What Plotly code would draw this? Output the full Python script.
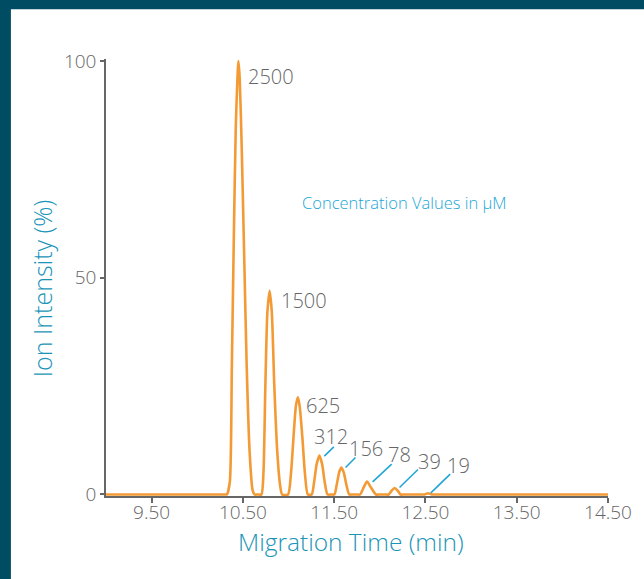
import plotly.graph_objects as go

# Electropherogram trace (migration time in min, ion intensity in %)
time_min = [
    9.00, 10.00, 10.28, 10.31, 10.325, 10.357, 10.379, 10.401, 10.422, 10.444, 10.451, 10.465, 10.487,
    10.514, 10.541, 10.573, 10.606, 10.628, 10.66,
    10.703, 10.725, 10.746, 10.768, 10.793, 10.817, 10.844, 10.876, 10.908, 10.930,
    10.995, 11.027, 11.060, 11.081, 11.103, 11.124, 11.152, 11.179, 11.211,
    11.254, 11.281, 11.308, 11.338, 11.368, 11.395, 11.427,
    11.47, 11.503, 11.530, 11.557, 11.579, 11.606, 11.633, 11.665, 11.70,
    11.75, 11.784, 11.822, 11.860, 11.903, 11.957, 12.00,
    12.06, 12.097, 12.130, 12.162, 12.195, 12.227, 12.27,
    12.45, 12.49, 12.53, 12.57, 12.62,
    13.00, 14.00, 14.50,
]
intensity = [
    0, 0, 0, 0, 0, 3, 30, 60, 85, 98, 100, 96, 80,
    55, 30, 10, 1, 0, 0,
    0, 5, 25, 42, 47, 42, 25, 10, 2, 0,
    0, 5, 15, 20.5, 22.4, 20, 13, 5, 0,
    0, 3, 7, 9, 7, 3, 0,
    0, 0, 2.5, 5.3, 6.2, 5, 2.3, 0, 0,
    0, 0, 1.6, 3.0, 1.6, 0, 0,
    0, 0, 0.9, 1.5, 0.9, 0, 0,
    0, 0, 0.3, 0, 0,
    0, 0, 0,
]

# Concentration labels (µM) for each peak
conc_labels = ["2500", "1500", "625", "312", "156", "78", "39", "19"]
label_x = [10.811, 11.168, 11.381, 11.470, 11.849, 12.219, 12.544, 12.865]
label_y = [96.5, 44.8, 20.6, 13.3, 10.6, 9.3, 7.7, 6.8]

# Leader lines for the small peaks (start x, start y, end x, end y)
leader_x0 = [11.392, 11.625, 11.921, 12.216, 12.559]
leader_y0 = [8.84, 6.23, 2.91, 1.62, 0.37]
leader_x1 = [11.496, 11.733, 12.130, 12.418, 12.771]
leader_y1 = [10.98, 8.54, 6.99, 5.77, 4.68]

x_tickvals = [9.5, 10.5, 11.5, 12.5, 13.5, 14.5]
x_ticktext = ["9.50", "10.50", "11.50", "12.50", "13.50", "14.50"]
y_tickvals = [0, 50, 100]

ORANGE = "#f39a34"
GRAY = "#666666"
TEAL_TITLE = "#1a94b8"
CYAN = "#22a6d6"
BORDER = "#004c63"
FONT = "Open Sans"

W, H = 644, 579
ml, mr, mt, mb = 106.4, 28.7, 58.8, 83.2
pw, ph = W - ml - mr, H - mt - mb


def px_x(p):
    return (p - ml) / pw


def px_y(p):
    return 1 - (p - mt) / ph


fig = go.Figure()
fig.add_trace(go.Scatter(
    x=time_min, y=intensity, mode="lines",
    line=dict(color=ORANGE, width=2.6, shape="spline", smoothing=0.6),
    hoverinfo="x+y", showlegend=False,
))

shapes = [
    # dark top and left frame bands
    dict(type="rect", xref="paper", yref="paper",
         x0=px_x(-20), x1=px_x(W + 20), y0=px_y(9), y1=px_y(-20),
         fillcolor=BORDER, line=dict(width=0), layer="below"),
    dict(type="rect", xref="paper", yref="paper",
         x0=px_x(-20), x1=px_x(10), y0=px_y(H + 20), y1=px_y(-20),
         fillcolor=BORDER, line=dict(width=0), layer="below"),
]
for i in range(len(leader_x0)):
    shapes.append(dict(type="line", xref="x", yref="y",
                       x0=leader_x0[i], y0=leader_y0[i],
                       x1=leader_x1[i], y1=leader_y1[i],
                       line=dict(color=CYAN, width=1.6)))

annotations = []
for txt, lx, ly in zip(conc_labels, label_x, label_y):
    annotations.append(dict(x=lx, y=ly, xref="x", yref="y", text=txt,
                            showarrow=False, xanchor="center", yanchor="middle",
                            font=dict(family=FONT, size=20, color=GRAY, weight=300)))
annotations.append(dict(x=12.27, y=67.3, xref="x", yref="y",
                        text="Concentration Values in µM", showarrow=False,
                        xanchor="center", yanchor="middle",
                        font=dict(family=FONT, size=16.5, color=CYAN, weight=300)))
annotations.append(dict(x=px_x(41), y=px_y(287.5), xref="paper", yref="paper",
                        text="Ion Intensity (%)", textangle=-90, showarrow=False,
                        xanchor="center", yanchor="middle",
                        font=dict(family=FONT, size=25, color=TEAL_TITLE, weight=300)))
annotations.append(dict(x=px_x(355), y=px_y(541), xref="paper", yref="paper",
                        text="Migration Time (min)", showarrow=False,
                        xanchor="center", yanchor="middle",
                        font=dict(family=FONT, size=24.5, color=TEAL_TITLE, weight=300)))

fig.update_layout(
    width=W, height=H,
    margin=dict(l=ml, r=mr, t=mt, b=mb, pad=0),
    paper_bgcolor="white", plot_bgcolor="white",
    shapes=shapes, annotations=annotations,
    font=dict(family=FONT, color=GRAY),
    xaxis=dict(
        range=[9.0, 14.5], tickvals=x_tickvals, ticktext=x_ticktext,
        showline=True, linecolor=GRAY, linewidth=1.5,
        ticks="outside", ticklen=5, tickcolor=GRAY, tickwidth=1.5,
        ticklabelstandoff=-7,
        showgrid=False, zeroline=False,
        tickfont=dict(family=FONT, size=19, color=GRAY, weight=300),
    ),
    yaxis=dict(
        range=[-0.35, 100.5], tickvals=y_tickvals,
        showline=True, linecolor=GRAY, linewidth=1.5,
        ticks="outside", ticklen=4, tickcolor=GRAY, tickwidth=1.5,
        showgrid=False, zeroline=False,
        tickfont=dict(family=FONT, size=19, color=GRAY, weight=300),
    ),
)

fig.write_html("out.html", config={"displayModeBar": False},
               post_script="document.body.style.margin='0';document.body.style.padding='0';")
